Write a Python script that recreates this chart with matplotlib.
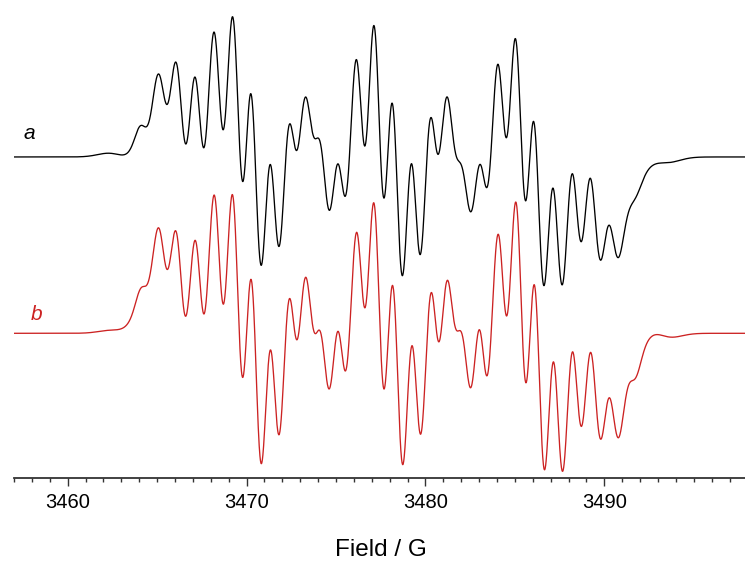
import numpy as np
import matplotlib
matplotlib.use("Agg")
import matplotlib.pyplot as plt

# Extrema of the two traces: (x pixel, y pixel)
red_pts = [(141.7,286.7),(158.3,230),(167.7,266.7),(175.7,231),(186,314),(195.7,236.7),(204,318.3),(214.3,192.7),(223.3,306),(232.3,194),(242.7,381.7),(250.7,280),(261.7,466),(270.3,347.7),(279.3,435),(289.3,295),(296.7,332.7),(306,279.3),(318.3,333),(329.3,386.7),(338.3,332.7),(345.7,370.7),(356.7,230.7),(365,317.3),(373.3,198.3),(384.3,383.3),(392.7,281.7),(402.7,467.3),(412,348.3),(420.7,436),(431,295),(439,334),(447.7,279),(459.3,333.3),(470.7,387.3),(479.3,333.3),(487.3,371.7),(498.3,231.7),(506.7,318.3),(515.7,200),(526,385),(534,284.3),(544.7,470.7),(553.3,360),(562.7,473.3),(572.3,346.7),(581,429.3),(590,352.7),(600.7,435),(609.3,399.3),(618.3,436.7),(633.3,380)]
red_flat = [(14,332.3),(40,332.2),(60,332),(80,331.6),(100,331),(115,329.5),(122,328),(650,337),(660,335.5),(680,334.5),(710,334.2),(745,334)]
red_noslope = {141.7, 318.3, 459.3, 633.3}
red_lines = [144.6,163,180.85,199.85,218.8,237.5,256.2,274.8,293,309.5,325,342,360.85,378.8,397.7,416.35,435,450.5,467,483.3,502.5,520.85,539.35,558,576.65,595.35,613.8,631.9]

blk_pts = [(140,126),(158.3,75),(167.7,103.3),(175.7,62.3),(186.7,143.3),(195,76),(204.3,147.7),(214,30.7),(223.3,130.7),(232.3,16.7),(243.3,186.7),(250,90.7),(261.7,265),(270,163.3),(279.3,247.3),(289,125.7),(296.7,147.7),(305.7,97.3),(312.7,133.3),(329.3,209.3),(338.3,166),(345.7,196),(356,61),(365.7,147.3),(373.3,21.7),(384.3,199.3),(391.7,101.7),(402.7,276.7),(411,164),(420.7,255),(430,119.3),(438.3,150.7),(447.3,97.3),(460,163.3),(471,210.7),(480.7,165.7),(487.3,187.7),(497.7,64.3),(506.7,138.3),(515,37.7),(526,201.7),(533.3,119.3),(544,286),(552.7,188.3),(562.3,286),(571.7,173.3),(581,242.7),(589.3,179),(600.7,260),(608.3,226),(618.3,256.7),(633.3,201.7)]
blk_flat = [(14,157),(40,157),(60,157),(80,156.5),(100,154.5),(115,153.5),(128,152.5),(653,165.3),(665,162.5),(680,160.5),(700,158.8),(720,157.7),(745,157.2)]
blk_noslope = {140, 312.7, 460, 633.3}
blk_lines = [144.6,163,181.2,199.65,218.65,237.8,255.85,274.65,292.85,309,325,342,360.85,378.8,397.2,415.85,434.15,450.5,467,484,502.2,520.5,538.65,557.5,576.35,595,613.3,631.9]

RED = '#cc2222'


def px2f(p):
    return 3460 + (p - 67.7) / 17.89


def gd(x, w):
    # first and second derivative of a gaussian line of fwhm w
    s = w / 2.3548
    e = np.exp(-x**2 / (2*s**2))
    return -x/s**2*e, (x**2/s**4 - 1/s**2)*e


broad_pos = np.arange(3463.0, 3493.01, 1.0)


def fit(pts, flat, noslope, lines, base, const, slope_w):
    narrow_pos = np.array([px2f(p) for p in lines])
    xv = np.array([px2f(p) for p, _ in pts] + [px2f(p) for p, _ in flat])
    yv = np.array([base - y for _, y in pts] + [base - y for _, y in flat])
    xs = np.array([px2f(p) for p, _ in pts if p not in noslope])
    b = np.concatenate([yv, np.zeros(len(xs))])

    def basis(pos, w):
        d1 = np.stack([gd(xv - p, w)[0] for p in pos], 1)
        d2 = np.stack([gd(xs - p, w)[1] for p in pos], 1) * slope_w
        return np.vstack([d1, d2])

    best = None
    for w1 in (0.5, 0.55, 0.6, 0.65, 0.7, 0.75, 0.8, 0.9):
        for w2 in (1.4, 1.8, 2.2, 2.8):
            A = np.hstack([basis(narrow_pos, w1), basis(broad_pos, w2)])
            if const:
                A = np.hstack([A, np.concatenate([np.ones(len(xv)), np.zeros(len(xs))])[:, None]])
            n = A.shape[1]
            Aa = np.vstack([A, 0.003*np.eye(n)])
            sol, *_ = np.linalg.lstsq(Aa, np.concatenate([b, np.zeros(n)]), rcond=None)
            r = np.sum((A @ sol - b)**2)
            if best is None or r < best[0]:
                best = (r, w1, w2, sol)
    _, w1, w2, sol = best

    def curve(x):
        y = np.zeros_like(x)
        nN = len(narrow_pos)
        for p, a in zip(narrow_pos, sol[:nN]):
            y += a*gd(x-p, w1)[0]
        for p, a in zip(broad_pos, sol[nN:nN+len(broad_pos)]):
            y += a*gd(x-p, w2)[0]
        if const:
            y += sol[-1]
        return y
    return curve


red_curve = fit(red_pts, red_flat, red_noslope, red_lines, 333.3, False, 0.3)
blk_curve = fit(blk_pts, blk_flat, blk_noslope, blk_lines, 157.0, True, 0.15)

field = np.linspace(3457, 3497.86, 3000)

plt.rcParams['font.family'] = ['Liberation Sans', 'DejaVu Sans']
fig = plt.figure(figsize=(7.45, 5.63), dpi=100)
ax = fig.add_axes([14/745, 85/563, 731/745, 478/563])
ax.plot(field, 478 - 157 + blk_curve(field), color='black', lw=0.95)
ax.plot(field, 478 - 333.3 + red_curve(field), color=RED, lw=0.95)
ax.set_xlim(3457, 3497.86)
ax.set_ylim(0, 478)
for s in ('top', 'right', 'left'):
    ax.spines[s].set_visible(False)
ax.spines['bottom'].set_linewidth(1.3)
ax.spines['bottom'].set_color('#333333')
ax.set_yticks([])
ax.set_xticks([3460, 3470, 3480, 3490])
ax.set_xticks(np.arange(3457, 3498), minor=True)
ax.tick_params(axis='x', which='major', length=5.5, width=1.0, pad=5.5, labelsize=14.5, color='#333333')
ax.tick_params(axis='x', which='minor', length=3, width=1.0, color='#333333')
fig.text(380.8/745, 13/563, 'Field / G', fontsize=17.5, ha='center', va='center')
fig.text(29/745, 1 - 133.5/563, 'a', fontsize=15, style='italic', ha='center', va='center')
fig.text(37/745, 1 - 315/563, 'b', fontsize=15, style='italic', ha='center', va='center', color=RED)
fig.savefig("out.png", dpi=100)
